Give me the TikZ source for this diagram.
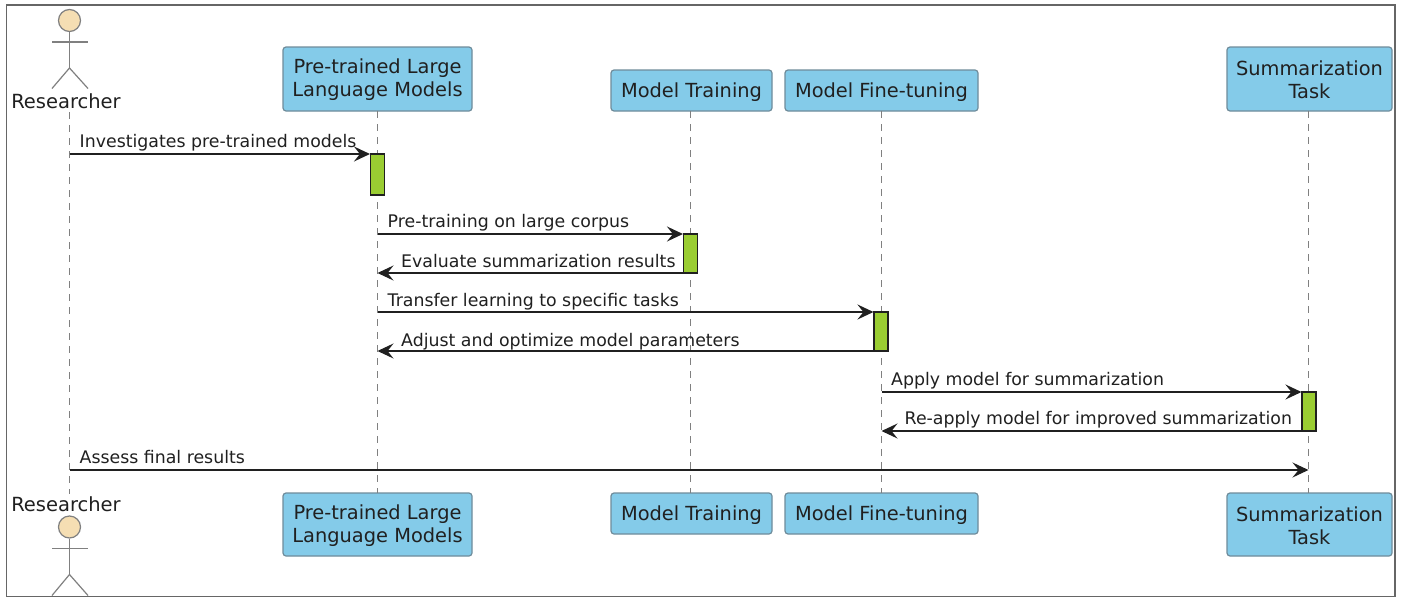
\documentclass[tikz,border=0pt]{standalone}
\usepackage{fontspec}
\setmainfont{DejaVu Sans}
\usetikzlibrary{arrows.meta}
\definecolor{boxblue}{HTML}{84CBE9}
\definecolor{boxedge}{HTML}{6F8C9B}
\definecolor{actgreen}{HTML}{9ACD32}
\definecolor{skin}{HTML}{F5DEB3}
\definecolor{ink}{HTML}{202020}
\definecolor{lifegray}{HTML}{808080}
\newcommand{\firstline}{\rule{0pt}{16.7pt}}
\tikzset{
  x=1pt,y=-1pt,
  part/.style={draw=boxedge,line width=1.2pt,fill=boxblue,rounded corners=3pt,minimum height=#1,align=center,
    font=\fontsize{19.4}{22.8}\selectfont,text=ink,inner sep=0pt},
  single/.style={text height=17.8pt,text depth=4pt},
  actorname/.style={font=\fontsize{19.5}{22.8}\selectfont,text=ink,inner sep=0pt},
  actbar/.style={draw=ink,line width=1.1pt,fill=actgreen,minimum width=14pt,inner sep=0pt,minimum height=#1},
  msg/.style={draw=ink,line width=1.3pt,-{Stealth[length=16pt,width=15pt,inset=6pt]}},
  msgtext/.style={anchor=base west,font=\fontsize{17.35}{20}\selectfont,text=ink,inner sep=0pt},
  lifeline/.style={draw=lifegray,line width=1.1pt,dash pattern=on 7pt off 6pt},
  stick/.style={draw=lifegray,line width=1.2pt},
  head/.style={draw=lifegray,line width=1.2pt,fill=skin,circle,minimum size=22pt,inner sep=0pt}
}
\begin{document}
\begin{tikzpicture}
\useasboundingbox (0,0) rectangle (1402,597);
\draw[draw=black!60,line width=1.3pt,fill=white] (6.5,5) rectangle (1395,596.5);

% participant boxes
\node[part=64pt,minimum width=189pt] (pt) at (377.5,79) {\firstline Pre-trained Large\\Language Models};
\node[part=41pt,minimum width=161pt,single] (mt) at (691.5,90.5) {Model Training};
\node[part=41pt,minimum width=193pt,single] (mf) at (881.5,90.5) {Model Fine-tuning};
\node[part=64pt,minimum width=165pt] (st) at (1309.5,79) {\firstline Summarization\\Task};
\node[part=63pt,minimum width=189pt] (pb) at (377.5,524.5) {\firstline Pre-trained Large\\Language Models};
\node[part=41pt,minimum width=161pt,single] (mb) at (691.5,513.5) {Model Training};
\node[part=41pt,minimum width=193pt,single] (fb) at (881.5,513.5) {Model Fine-tuning};
\node[part=63pt,minimum width=165pt] (sb) at (1309.5,524.5) {\firstline Summarization\\Task};

% actors
\node[actorname] (rt) at (66,101) {Researcher};
\node[actorname] (rb) at (66,504) {Researcher};
\node[head] (ht) at (69.5,20.5) {};
\node[head] (hb) at (69.5,527) {};
\coordinate (tb) at (69.5,68);
\coordinate (bb) at (69.5,574.5);
\draw[stick] (ht.south) -- (tb);
\draw[stick] (52,42) -- (88,42);
\draw[stick] (52,88.5) -- (tb) -- (88,88.5);
\draw[stick] (hb.south) -- (bb);
\draw[stick] (52,548.5) -- (88,548.5);
\draw[stick] (52,595.5) -- (bb) -- (88,595.5);

% lifelines
\coordinate (lrt) at (69.5,112);
\coordinate (lrb) at (69.5,494);
\coordinate (lpt) at (377.5,111);
\coordinate (lpb) at (377.5,493);
\coordinate (lmt) at (690.5,111);
\coordinate (lmb) at (690.5,493);
\coordinate (lft) at (881.5,111);
\coordinate (lfb) at (881.5,493);
\coordinate (lst) at (1308.5,111);
\coordinate (lsb) at (1308.5,493);
\draw[lifeline] (lrt) -- (lrb);
\draw[lifeline] (lpt) -- (lpb);
\draw[lifeline] (lmt) -- (lmb);
\draw[lifeline] (lft) -- (lfb);
\draw[lifeline] (lst) -- (lsb);

% activation bars
\node[actbar=41pt] (a1) at (377.5,174.5) {};
\node[actbar=39pt] (a2) at (690.5,253.5) {};
\node[actbar=39pt] (a3) at (881,331.5) {};
\node[actbar=39pt] (a4) at (1309,411.5) {};

% message end points on lifelines
\coordinate (r1) at (69.5,154);
\coordinate (p2) at (377.5,234);
\coordinate (p3) at (377.5,273);
\coordinate (p4) at (377.5,312);
\coordinate (p5) at (377.5,351);
\coordinate (f6) at (881.5,392);
\coordinate (f7) at (881.5,431);
\coordinate (r8) at (69.5,470);
\coordinate (s8) at (1308.5,470);

% messages
\draw[msg] (r1) -- (r1 -| a1.west);
\draw[msg] (p2) -- (p2 -| a2.west);
\draw[msg] (p3 -| a2.west) -- (p3);
\draw[msg] (p4) -- (p4 -| a3.west);
\draw[msg] (p5 -| a3.west) -- (p5);
\draw[msg] (f6) -- (f6 -| a4.west);
\draw[msg] (f7 -| a4.west) -- (f7);
\draw[msg] (r8) -- (s8);

% message labels
\node[msgtext] (t1) at (79.5,147) {Investigates pre-trained models};
\node[msgtext] (t2) at (387.5,227) {Pre-training on large corpus};
\node[msgtext] (t3) at (401,267) {Evaluate summarization results};
\node[msgtext] (t4) at (387.5,306) {Transfer learning to specific tasks};
\node[msgtext] (t5) at (401,346) {Adjust and optimize model parameters};
\node[msgtext] (t6) at (891,385) {Apply model for summarization};
\node[msgtext] (t7) at (904.5,424) {Re-apply model for improved summarization};
\node[msgtext] (t8) at (79.5,463) {Assess final results};
\end{tikzpicture}
\end{document}
